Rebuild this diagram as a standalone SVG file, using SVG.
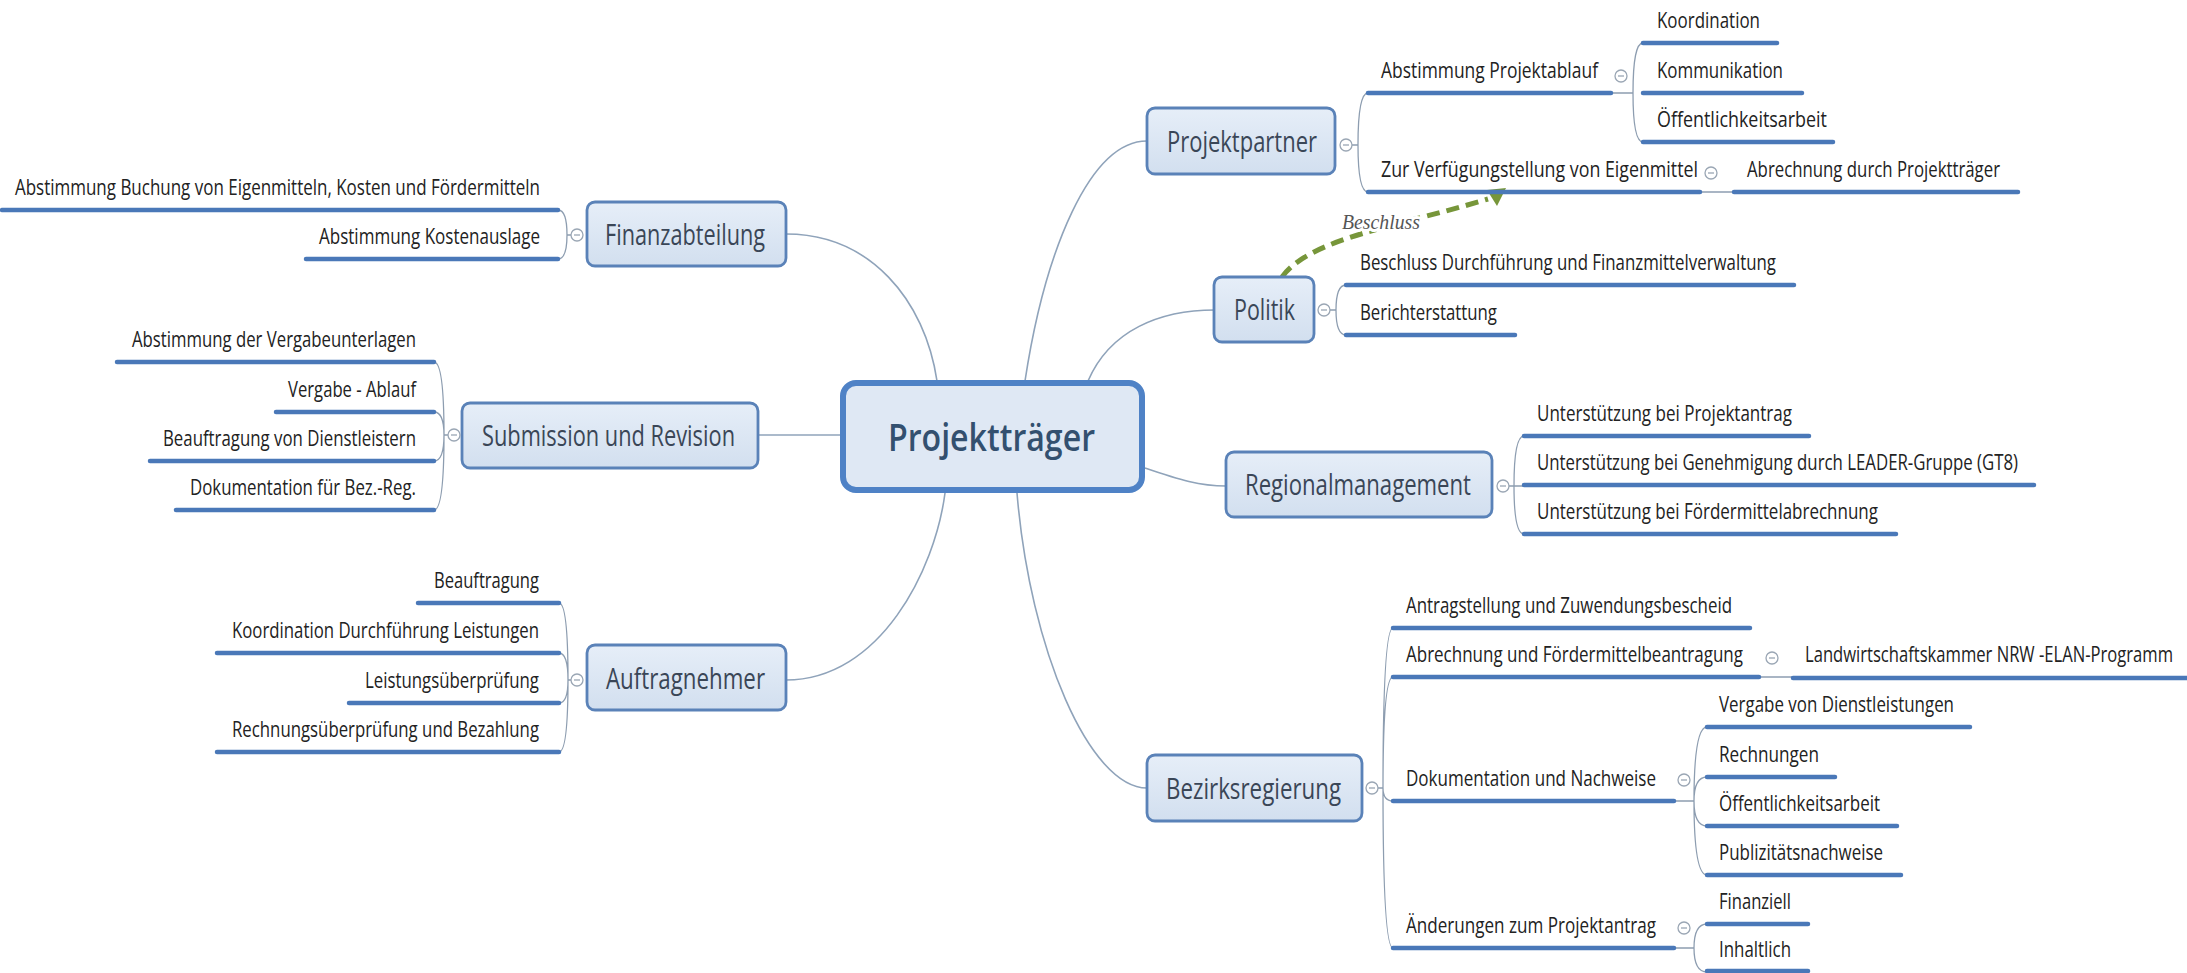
<svg xmlns="http://www.w3.org/2000/svg" width="2187" height="973" viewBox="0 0 2187 973">
<defs>
<linearGradient id="boxg" x1="0" y1="0" x2="0" y2="1">
<stop offset="0" stop-color="#e6eef8"/>
<stop offset="1" stop-color="#d2dfef"/>
</linearGradient>
<style>
.bg{fill:#ffffff}
.box{fill:url(#boxg);stroke:#5a82b8;stroke-width:2.8}
.main{fill:#dfe8f4;stroke:#4f82c6;stroke-width:6}
.nt{font-family:"Open Sans","Liberation Sans",sans-serif;font-size:30px;fill:#3a4657}
.mt{font-family:"Open Sans","Liberation Sans",sans-serif;font-size:38px;font-weight:600;fill:#33506f}
.ct{font-family:"Open Sans","Liberation Sans",sans-serif;font-size:21px;fill:#222222}
.ul{stroke:#4a78b8;stroke-width:4.5;stroke-linecap:round;fill:none}
.con{stroke:#8fa3ba;stroke-width:1.6;fill:none}
.br{stroke:#8d9db0;stroke-width:1.3;fill:none}
.cc{fill:#ffffff;stroke:#9aa6b4;stroke-width:1.3}
.cm{stroke:#9aa6b4;stroke-width:1.3}
.rel{stroke:#77963a;stroke-width:5;stroke-dasharray:13 7;fill:none}
.rl{font-family:"Liberation Serif",serif;font-style:italic;font-size:21px;fill:#555555}
</style>
</defs>
<rect class="bg" x="0" y="0" width="2187" height="973"/>

<g id="connectors">
<path class="con" d="M786,234 C870,234 925,300 937,381"/>
<path class="con" d="M758,435 L840,435"/>
<path class="con" d="M786,680 C880,680 935,570 945,493"/>
<path class="con" d="M1025,381 C1045,250 1090,141 1147,141"/>
<path class="con" d="M1088,381 C1110,330 1160,310 1215,310"/>
<path class="con" d="M1145,468 C1180,480 1200,486 1226,486"/>
<path class="con" d="M1017,493 C1030,650 1090,788 1147,788"/>
<!-- left brackets -->
<path class="br" d="M571,235 L567,235 Q567,210 558,210 M567,235 Q567,259 558,259"/>
<path class="br" d="M448,435 L444,435 Q444,362 434,362 M444,435 Q444,412 434,412 M444,435 Q444,461 434,461 M444,435 Q444,510 434,510"/>
<path class="br" d="M571,680 L568,680 Q568,603 559,603 M568,680 Q568,653 559,653 M568,680 Q568,703 559,703 M568,680 Q568,752 559,752"/>
<!-- right brackets -->
<path class="br" d="M1352,145 L1358,145 Q1358,93 1368,93 M1358,145 Q1358,192 1368,192"/>
<path class="br" d="M1611,93 L1633,93 M1633,93 Q1633,43 1643,43 M1633,93 Q1633,142 1643,142"/>
<path class="br" d="M1700,192 L1734,192"/>
<path class="br" d="M1330,310 L1336,310 Q1336,285 1346,285 M1336,310 Q1336,335 1346,335"/>
<path class="br" d="M1509,486 L1514,486 Q1514,436 1524,436 M1514,486 L1524,486 M1514,486 Q1514,534 1524,534"/>
<path class="br" d="M1378,788 L1383,788 Q1383,628 1393,628 M1383,788 Q1383,677 1393,677 M1383,788 Q1383,801 1393,801 M1383,788 Q1383,948 1393,948"/>
<path class="br" d="M1759,677 L1793,677"/>
<path class="br" d="M1674,801 L1694,801 M1694,801 Q1694,727 1707,727 M1694,801 Q1694,777 1707,777 M1694,801 Q1694,826 1707,826 M1694,801 Q1694,875 1707,875"/>
<path class="br" d="M1674,948 L1694,948 M1694,948 Q1694,924 1707,924 M1694,948 Q1694,972 1707,972"/>
<!-- relationship -->
<path class="rel" d="M1282,277 C1310,238 1400,226 1488,199"/>
<polygon points="1487,190 1506,188 1497,206" fill="#77963a"/>
<text class="rl" x="1342" y="229" textLength="78" lengthAdjust="spacingAndGlyphs" stroke="#ffffff" stroke-width="6" paint-order="stroke">Beschluss</text>
</g>

<g id="n-main">
<rect class="main" x="843" y="383" width="299" height="107" rx="13"/>
<text class="mt" x="888" y="451" textLength="207" lengthAdjust="spacingAndGlyphs">Projektträger</text>
</g>

<g id="n-finanz">
<rect class="box" x="587" y="202" width="199" height="64" rx="8"/>
<text class="nt" x="605" y="245" textLength="160" lengthAdjust="spacingAndGlyphs">Finanzabteilung</text>
<circle class="cc" cx="577" cy="235" r="6"/><line class="cm" x1="574" y1="235" x2="580" y2="235"/>
<path class="ul" d="M2,210 L558,210"/>
<text class="ct" x="15" y="195" textLength="525" lengthAdjust="spacingAndGlyphs">Abstimmung Buchung von Eigenmitteln, Kosten und Fördermitteln</text>
<path class="ul" d="M306,259 L558,259"/>
<text class="ct" x="319" y="244" textLength="221" lengthAdjust="spacingAndGlyphs">Abstimmung Kostenauslage</text>
</g>

<g id="n-submission">
<rect class="box" x="462" y="403" width="296" height="65" rx="8"/>
<text class="nt" x="482" y="446" textLength="253" lengthAdjust="spacingAndGlyphs">Submission und Revision</text>
<circle class="cc" cx="454" cy="435" r="6"/><line class="cm" x1="451" y1="435" x2="457" y2="435"/>
<path class="ul" d="M117,362 L434,362"/>
<text class="ct" x="132" y="347" textLength="284" lengthAdjust="spacingAndGlyphs">Abstimmung der Vergabeunterlagen</text>
<path class="ul" d="M276,412 L434,412"/>
<text class="ct" x="288" y="397" textLength="128" lengthAdjust="spacingAndGlyphs">Vergabe - Ablauf</text>
<path class="ul" d="M150,461 L434,461"/>
<text class="ct" x="163" y="446" textLength="253" lengthAdjust="spacingAndGlyphs">Beauftragung von Dienstleistern</text>
<path class="ul" d="M176,510 L434,510"/>
<text class="ct" x="190" y="495" textLength="226" lengthAdjust="spacingAndGlyphs">Dokumentation für Bez.-Reg.</text>
</g>

<g id="n-auftragnehmer">
<rect class="box" x="587" y="645" width="199" height="65" rx="8"/>
<text class="nt" x="606" y="689" textLength="159" lengthAdjust="spacingAndGlyphs">Auftragnehmer</text>
<circle class="cc" cx="577" cy="680" r="6"/><line class="cm" x1="574" y1="680" x2="580" y2="680"/>
<path class="ul" d="M418,603 L559,603"/>
<text class="ct" x="434" y="588" textLength="105" lengthAdjust="spacingAndGlyphs">Beauftragung</text>
<path class="ul" d="M217,653 L559,653"/>
<text class="ct" x="232" y="638" textLength="307" lengthAdjust="spacingAndGlyphs">Koordination Durchführung Leistungen</text>
<path class="ul" d="M349,703 L559,703"/>
<text class="ct" x="365" y="688" textLength="174" lengthAdjust="spacingAndGlyphs">Leistungsüberprüfung</text>
<path class="ul" d="M217,752 L559,752"/>
<text class="ct" x="232" y="737" textLength="307" lengthAdjust="spacingAndGlyphs">Rechnungsüberprüfung und Bezahlung</text>
</g>

<g id="n-projektpartner">
<rect class="box" x="1147" y="108" width="188" height="66" rx="8"/>
<text class="nt" x="1167" y="152" textLength="150" lengthAdjust="spacingAndGlyphs">Projektpartner</text>
<circle class="cc" cx="1346" cy="145" r="6"/><line class="cm" x1="1343" y1="145" x2="1349" y2="145"/>
<path class="ul" d="M1368,93 L1611,93"/>
<text class="ct" x="1381" y="78" textLength="217" lengthAdjust="spacingAndGlyphs">Abstimmung Projektablauf</text>
<circle class="cc" cx="1621" cy="76" r="6"/><line class="cm" x1="1618" y1="76" x2="1624" y2="76"/>
<path class="ul" d="M1643,43 L1777,43"/>
<text class="ct" x="1657" y="28" textLength="103" lengthAdjust="spacingAndGlyphs">Koordination</text>
<path class="ul" d="M1643,93 L1802,93"/>
<text class="ct" x="1657" y="78" textLength="126" lengthAdjust="spacingAndGlyphs">Kommunikation</text>
<path class="ul" d="M1643,142 L1833,142"/>
<text class="ct" x="1657" y="127" textLength="170" lengthAdjust="spacingAndGlyphs">Öffentlichkeitsarbeit</text>
<path class="ul" d="M1368,192 L1700,192"/>
<text class="ct" x="1381" y="177" textLength="317" lengthAdjust="spacingAndGlyphs">Zur Verfügungstellung von Eigenmittel</text>
<circle class="cc" cx="1711" cy="173" r="6"/><line class="cm" x1="1708" y1="173" x2="1714" y2="173"/>
<path class="ul" d="M1734,192 L2018,192"/>
<text class="ct" x="1747" y="177" textLength="253" lengthAdjust="spacingAndGlyphs">Abrechnung durch Projektträger</text>
</g>

<g id="n-politik">
<rect class="box" x="1214" y="277" width="100" height="65" rx="8"/>
<text class="nt" x="1234" y="320" textLength="61" lengthAdjust="spacingAndGlyphs">Politik</text>
<circle class="cc" cx="1324" cy="310" r="6"/><line class="cm" x1="1321" y1="310" x2="1327" y2="310"/>
<path class="ul" d="M1346,285 L1794,285"/>
<text class="ct" x="1360" y="270" textLength="416" lengthAdjust="spacingAndGlyphs">Beschluss Durchführung und Finanzmittelverwaltung</text>
<path class="ul" d="M1346,335 L1515,335"/>
<text class="ct" x="1360" y="320" textLength="137" lengthAdjust="spacingAndGlyphs">Berichterstattung</text>
</g>

<g id="n-regional">
<rect class="box" x="1226" y="452" width="266" height="65" rx="8"/>
<text class="nt" x="1245" y="495" textLength="226" lengthAdjust="spacingAndGlyphs">Regionalmanagement</text>
<circle class="cc" cx="1503" cy="486" r="6"/><line class="cm" x1="1500" y1="486" x2="1506" y2="486"/>
<path class="ul" d="M1524,436 L1809,436"/>
<text class="ct" x="1537" y="421" textLength="255" lengthAdjust="spacingAndGlyphs">Unterstützung bei Projektantrag</text>
<path class="ul" d="M1524,485 L2034,485"/>
<text class="ct" x="1537" y="470" textLength="481" lengthAdjust="spacingAndGlyphs">Unterstützung bei Genehmigung durch LEADER-Gruppe (GT8)</text>
<path class="ul" d="M1524,534 L1896,534"/>
<text class="ct" x="1537" y="519" textLength="341" lengthAdjust="spacingAndGlyphs">Unterstützung bei Fördermittelabrechnung</text>
</g>

<g id="n-bezirk">
<rect class="box" x="1147" y="755" width="215" height="66" rx="8"/>
<text class="nt" x="1166" y="799" textLength="175" lengthAdjust="spacingAndGlyphs">Bezirksregierung</text>
<circle class="cc" cx="1372" cy="788" r="6"/><line class="cm" x1="1369" y1="788" x2="1375" y2="788"/>
<path class="ul" d="M1393,628 L1750,628"/>
<text class="ct" x="1406" y="613" textLength="326" lengthAdjust="spacingAndGlyphs">Antragstellung und Zuwendungsbescheid</text>
<path class="ul" d="M1393,677 L1759,677"/>
<text class="ct" x="1406" y="662" textLength="337" lengthAdjust="spacingAndGlyphs">Abrechnung und Fördermittelbeantragung</text>
<circle class="cc" cx="1772" cy="658" r="6"/><line class="cm" x1="1769" y1="658" x2="1775" y2="658"/>
<path class="ul" d="M1793,678 L2187,678"/>
<text class="ct" transform="translate(1805,662) scale(0.8,1)" x="0" y="0" textLength="460" lengthAdjust="spacingAndGlyphs">Landwirtschaftskammer NRW -ELAN-Programm</text>
<path class="ul" d="M1393,801 L1674,801"/>
<text class="ct" x="1406" y="786" textLength="250" lengthAdjust="spacingAndGlyphs">Dokumentation und Nachweise</text>
<circle class="cc" cx="1684" cy="780" r="6"/><line class="cm" x1="1681" y1="780" x2="1687" y2="780"/>
<path class="ul" d="M1707,727 L1970,727"/>
<text class="ct" x="1719" y="712" textLength="235" lengthAdjust="spacingAndGlyphs">Vergabe von Dienstleistungen</text>
<path class="ul" d="M1707,777 L1835,777"/>
<text class="ct" x="1719" y="762" textLength="100" lengthAdjust="spacingAndGlyphs">Rechnungen</text>
<path class="ul" d="M1707,826 L1897,826"/>
<text class="ct" x="1719" y="811" textLength="161" lengthAdjust="spacingAndGlyphs">Öffentlichkeitsarbeit</text>
<path class="ul" d="M1707,875 L1901,875"/>
<text class="ct" x="1719" y="860" textLength="164" lengthAdjust="spacingAndGlyphs">Publizitätsnachweise</text>
<path class="ul" d="M1393,948 L1674,948"/>
<text class="ct" x="1406" y="933" textLength="250" lengthAdjust="spacingAndGlyphs">Änderungen zum Projektantrag</text>
<circle class="cc" cx="1684" cy="928" r="6"/><line class="cm" x1="1681" y1="928" x2="1687" y2="928"/>
<path class="ul" d="M1707,924 L1808,924"/>
<text class="ct" x="1719" y="909" textLength="72" lengthAdjust="spacingAndGlyphs">Finanziell</text>
<path class="ul" d="M1707,971 L1808,971"/>
<text class="ct" x="1719" y="957" textLength="72" lengthAdjust="spacingAndGlyphs">Inhaltlich</text>
</g>
</svg>
